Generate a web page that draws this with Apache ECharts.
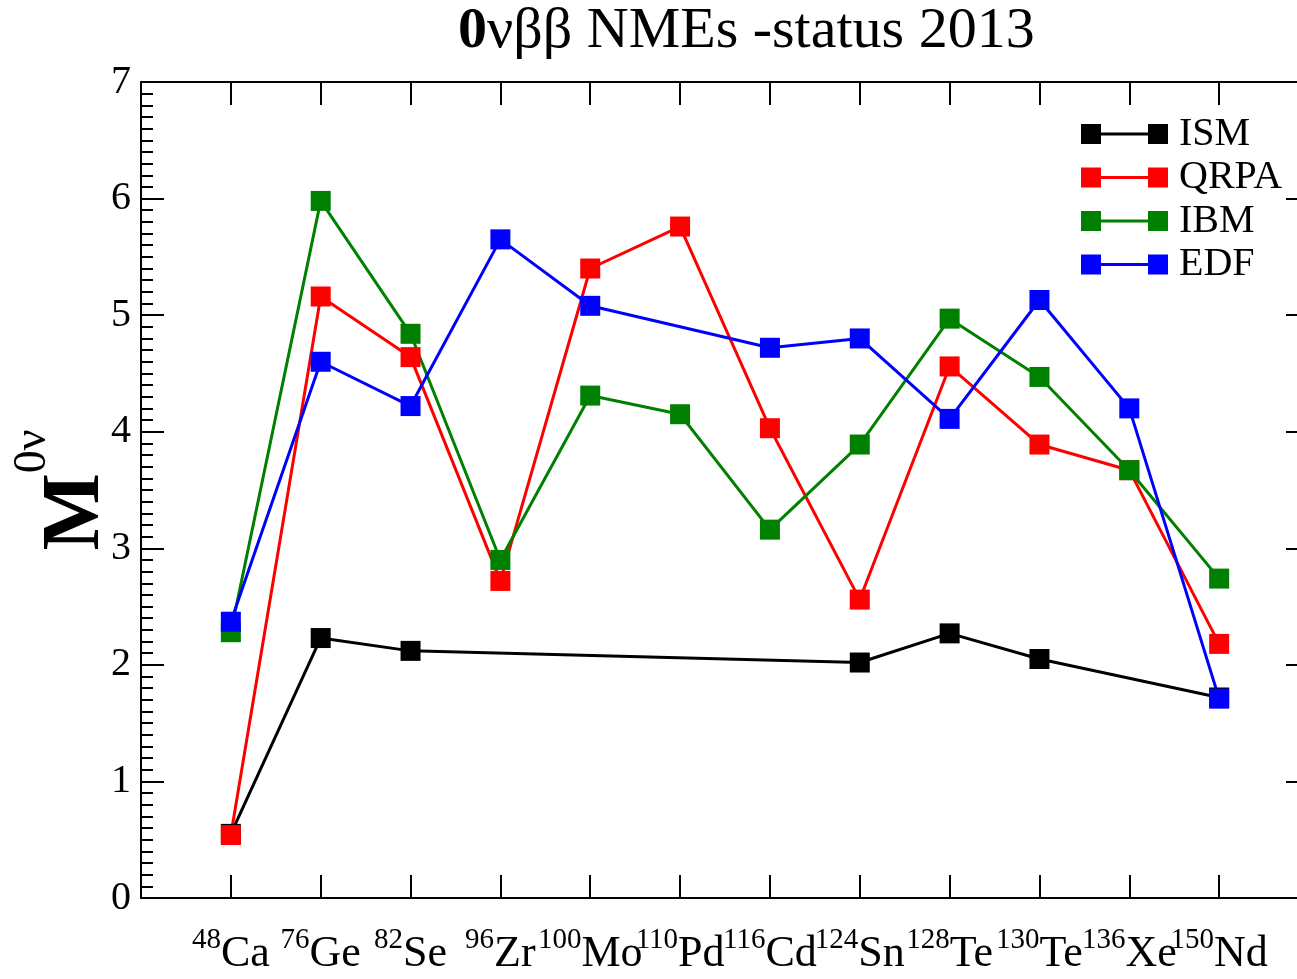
<!DOCTYPE html>
<html>
<head>
<meta charset="utf-8">
<script src="https://cdn.jsdelivr.net/npm/echarts@6/dist/echarts.min.js"></script>
<style>
  html, body { margin: 0; padding: 0; background: #fff; }
  #chart { width: 1297px; height: 979px; }
</style>
</head>
<body>
<div id="chart"></div>
<script>
// Nuclei (mass number + element) along the horizontal axis
const massNumbers = ['48', '76', '82', '96', '100', '110', '116', '124', '128', '130', '136', '150'];
const elements = ['Ca', 'Ge', 'Se', 'Zr', 'Mo', 'Pd', 'Cd', 'Sn', 'Te', 'Te', 'Xe', 'Nd'];

// Nuclear matrix elements M^0ν per model (null = not computed)
const ism  = [0.55, 2.23, 2.12, null, null, null, null, 2.02, 2.27, 2.05, null, 1.72];
const qrpa = [0.54, 5.16, 4.64, 2.72, 5.40, 5.76, 4.03, 2.56, 4.56, 3.89, 3.67, 2.18];
const ibm  = [2.28, 5.98, 4.84, 2.90, 4.31, 4.15, 3.16, 3.89, 4.97, 4.47, 3.67, 2.74];
const edf  = [2.37, 4.60, 4.22, 5.65, 5.08, null, 4.72, 4.80, 4.11, 5.13, 4.20, 1.71];

const yTicks = [0, 1, 2, 3, 4, 5, 6, 7];

const SERIF = '"Liberation Serif", "DejaVu Serif", serif';

// nuclei sit at positions 1..12 on a 0..13 value axis
function toPoints(values) {
  const pts = [];
  values.forEach((v, i) => { if (v !== null) pts.push([i + 1, v]); });
  return pts;
}

const legendIcon = 'path://M0,0h20v20h-20z M20,8.5h47v3h-47z M67,0h20v20h-20z';

function makeSeries(name, values, color) {
  return {
    name: name,
    type: 'line',
    data: toPoints(values),
    symbol: 'rect',
    symbolSize: 20,
    color: color,
    lineStyle: { color: color, width: 3 },
    itemStyle: { color: color },
    emphasis: { disabled: true },
    animation: false
  };
}

function axisLine() { return { onZero: false, lineStyle: { color: '#000', width: 2 } }; }
function tick() { return { show: true, inside: true, length: 23, lineStyle: { color: '#000', width: 2 } }; }
function minor() { return { show: true, splitNumber: 10, length: 12, lineStyle: { color: '#000', width: 2 } }; }

const chart = echarts.init(document.getElementById('chart'), null, { renderer: 'canvas' });

chart.setOption({
  backgroundColor: '#fff',
  animation: false,
  title: {
    text: '{b|0}νββ NMEs -status 2013',
    left: 453,
    top: -2,
    textStyle: {
      fontFamily: SERIF,
      fontSize: 58,
      fontWeight: 'normal',
      color: '#000',
      rich: {
        b: { fontFamily: SERIF, fontSize: 58, fontWeight: 'bold', color: '#000' }
      }
    }
  },
  legend: {
    orient: 'vertical',
    left: 1076,
    top: 109,
    itemWidth: 87,
    itemHeight: 20,
    itemGap: 3.5,
    icon: legendIcon,
    textStyle: { fontFamily: SERIF, fontSize: 40, lineHeight: 40, color: '#000', padding: [0, 0, 0, 6] },
    data: ['ISM', 'QRPA', 'IBM', 'EDF']
  },
  grid: { left: 141, right: -12, top: 82, bottom: 81, containLabel: false, outerBoundsMode: 'none' },
  xAxis: [
    {
      type: 'value',
      min: 0,
      max: 13,
      interval: 1,
      axisLine: axisLine(),
      axisTick: tick(),
      splitLine: { show: false },
      axisLabel: {
        margin: 28,
        formatter: function (v) {
          const i = Math.round(v) - 1;
          if (i < 0 || i >= elements.length) return '';
          return '{m|' + massNumbers[i] + '}{e|' + elements[i] + '}';
        },
        rich: {
          m: { fontFamily: SERIF, fontSize: 29, color: '#000', verticalAlign: 'top', lineHeight: 50 },
          e: { fontFamily: SERIF, fontSize: 44, color: '#000', verticalAlign: 'bottom', lineHeight: 50 }
        }
      }
    },
    {
      type: 'value',
      position: 'top',
      min: 0,
      max: 13,
      interval: 1,
      axisLine: axisLine(),
      axisTick: tick(),
      axisLabel: { show: false },
      splitLine: { show: false }
    }
  ],
  yAxis: [
    {
      type: 'value',
      min: yTicks[0],
      max: yTicks[yTicks.length - 1],
      interval: 1,
      axisLine: axisLine(),
      axisTick: tick(),
      minorTick: minor(),
      splitLine: { show: false },
      axisLabel: { fontFamily: SERIF, fontSize: 40, color: '#000', margin: 10 },
      name: '{M|M}{s|0ν}',
      nameLocation: 'middle',
      nameGap: 23,
      nameMoveOverlap: false,
      nameRotate: 90,
      nameTextStyle: {
        rich: {
          M: { fontFamily: SERIF, fontSize: 82, fontWeight: 'bold', color: '#000', verticalAlign: 'bottom', lineHeight: 108 },
          s: { fontFamily: SERIF, fontSize: 46, color: '#000', verticalAlign: 'top', lineHeight: 108 }
        }
      }
    },
    {
      type: 'value',
      position: 'right',
      min: yTicks[0],
      max: yTicks[yTicks.length - 1],
      interval: 1,
      axisLine: axisLine(),
      axisTick: tick(),
      minorTick: minor(),
      axisLabel: { show: false },
      splitLine: { show: false }
    }
  ],
  series: [
    makeSeries('ISM', ism, '#000000'),
    makeSeries('QRPA', qrpa, '#ff0000'),
    makeSeries('IBM', ibm, '#008000'),
    makeSeries('EDF', edf, '#0000ff')
  ]
});
</script>
</body>
</html>
